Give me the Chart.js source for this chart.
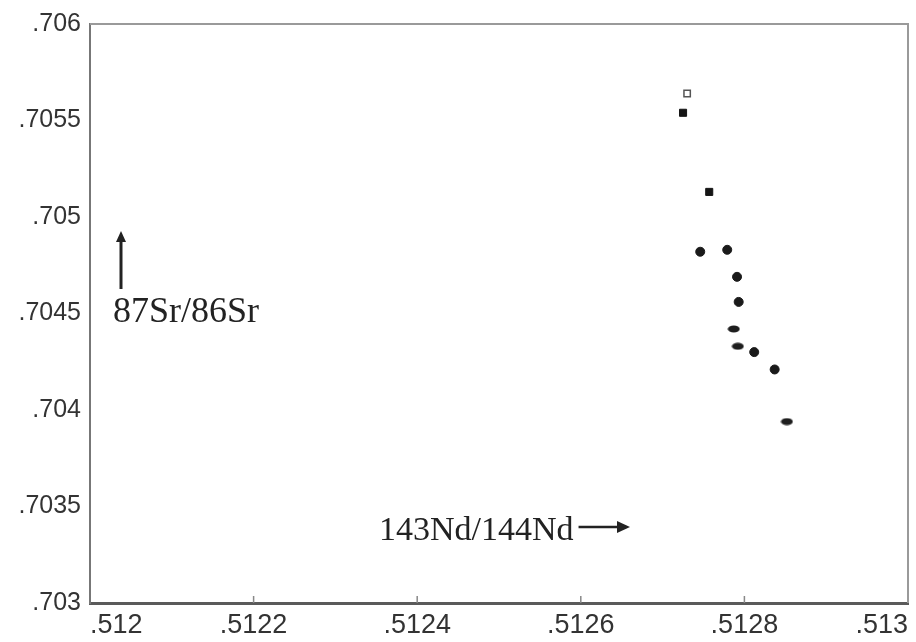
<!DOCTYPE html>
<html>
<head>
<meta charset="utf-8">
<script src="https://cdn.jsdelivr.net/npm/chart.js@4/dist/chart.umd.min.js"></script>
<style>
  html, body { margin: 0; padding: 0; background: #fff; }
  #wrap { width: 916px; height: 642px; position: relative; }
</style>
</head>
<body>
<div id="wrap"><canvas id="c" width="916" height="642"></canvas></div>
<script>
// ---- data ----
const xTickValues = [0.512, 0.5122, 0.5124, 0.5126, 0.5128, 0.513];
const xTickLabels = ['.512', '.5122', '.5124', '.5126', '.5128', '.513'];
const yTickValues = [0.703, 0.7035, 0.704, 0.7045, 0.705, 0.7055, 0.706];
const yTickLabels = ['.703', '.7035', '.704', '.7045', '.705', '.7055', '.706'];

const openSquareX = [0.51273];
const openSquareY = [0.70564];
const filledSquareX = [0.512725, 0.512757];
const filledSquareY = [0.70554, 0.70513];
const dotX = [0.512746, 0.512779, 0.512791, 0.512793, 0.512812, 0.512837];
const dotY = [0.70482, 0.70483, 0.70469, 0.70456, 0.70430, 0.70421];
const dashX = [0.512787, 0.512792, 0.512852];
const dashY = [0.70442, 0.70433, 0.70394];

const xLabel = '143Nd/144Nd';
const yLabel = '87Sr/86Sr';

function pts(xs, ys) { return xs.map((x, i) => ({ x: x, y: ys[i] })); }

// flattened marker used for the dash-like points
const dashImg = document.createElement('canvas');
dashImg.width = 13; dashImg.height = 8;
(function () {
  const g = dashImg.getContext('2d');
  g.fillStyle = '#1e1e1e';
  g.beginPath();
  g.ellipse(6.5, 4, 6, 3.5, 0, 0, Math.PI * 2);
  g.fill();
})();

const annotate = {
  id: 'annotate',
  afterDraw(chart) {
    const ctx = chart.ctx;
    const a = chart.chartArea;
    const xs = chart.scales.x;
    ctx.save();
    // top and right frame lines
    ctx.strokeStyle = '#9a9a9a';
    ctx.lineWidth = 2;
    ctx.beginPath();
    ctx.moveTo(a.left, a.top);
    ctx.lineTo(a.right, a.top);
    ctx.lineTo(a.right, a.bottom);
    ctx.stroke();
    // small inner ticks on the x axis
    ctx.strokeStyle = '#888';
    ctx.lineWidth = 1.5;
    xTickValues.slice(1, -1).forEach(v => {
      const px = xs.getPixelForValue(v);
      ctx.beginPath();
      ctx.moveTo(px, a.bottom);
      ctx.lineTo(px, a.bottom - 7);
      ctx.stroke();
    });
    // axis name texts
    ctx.fillStyle = '#222';
    ctx.textBaseline = 'alphabetic';
    ctx.textAlign = 'left';
    ctx.font = '36px "Liberation Serif", serif';
    ctx.fillText(yLabel, a.left + 23, 322);
    ctx.font = '34px "Liberation Serif", serif';
    ctx.fillText(xLabel, 379, 540);
    const xEnd = 379 + ctx.measureText(xLabel).width;
    // vertical arrow
    ctx.strokeStyle = '#222';
    ctx.lineWidth = 3;
    ctx.beginPath();
    ctx.moveTo(a.left + 31, 289);
    ctx.lineTo(a.left + 31, 238);
    ctx.stroke();
    ctx.beginPath();
    ctx.moveTo(a.left + 31, 231);
    ctx.lineTo(a.left + 26, 242);
    ctx.lineTo(a.left + 36, 242);
    ctx.closePath();
    ctx.fill();
    // horizontal arrow
    ctx.lineWidth = 2.5;
    ctx.beginPath();
    ctx.moveTo(xEnd + 5, 527);
    ctx.lineTo(622, 527);
    ctx.stroke();
    ctx.beginPath();
    ctx.moveTo(630, 527);
    ctx.lineTo(617, 521);
    ctx.lineTo(617, 533);
    ctx.closePath();
    ctx.fill();
    ctx.restore();
  }
};

new Chart(document.getElementById('c'), {
  type: 'scatter',
  data: {
    datasets: [
      { label: 'open square', data: pts(openSquareX, openSquareY), pointStyle: 'rect',
        pointRadius: 4.5, backgroundColor: '#fff', borderColor: '#555', borderWidth: 1.5 },
      { label: 'filled square', data: pts(filledSquareX, filledSquareY), pointStyle: 'rect',
        pointRadius: 5, backgroundColor: '#151515', borderColor: '#151515', borderWidth: 1 },
      { label: 'dot', data: pts(dotX, dotY), pointStyle: 'circle',
        pointRadius: 4.5, backgroundColor: '#1a1a1a', borderColor: '#1a1a1a', borderWidth: 1 },
      { label: 'dash', data: pts(dashX, dashY), pointStyle: dashImg,
        pointRadius: 6, backgroundColor: '#1e1e1e', borderColor: '#1e1e1e' }
    ]
  },
  options: {
    responsive: false,
    animation: false,
    events: [],
    layout: { padding: { top: 22, right: 8, left: 0, bottom: 0 } },
    plugins: { legend: { display: false }, tooltip: { enabled: false } },
    scales: {
      x: {
        type: 'linear', min: 0.512, max: 0.513,
        afterBuildTicks: s => { s.ticks = xTickValues.map(v => ({ value: v })); },
        afterFit: s => { s.height = 39; },
        grid: { display: false, drawTicks: false },
        border: { display: true, color: '#5a5a5a', width: 3 },
        ticks: {
          align: 'inner', padding: 6, color: '#333', maxRotation: 0,
          font: { family: '"Liberation Sans Narrow", "Liberation Sans", sans-serif', size: 27 },
          callback: (v) => { const i = xTickValues.findIndex(t => Math.abs(t - v) < 1e-9); return i >= 0 ? xTickLabels[i] : ''; }
        }
      },
      y: {
        type: 'linear', min: 0.703, max: 0.706,
        afterBuildTicks: s => { s.ticks = yTickValues.map(v => ({ value: v })); },
        afterFit: s => { s.width = 90; },
        grid: { display: false, drawTicks: false },
        border: { display: true, color: '#777', width: 2 },
        ticks: {
          padding: 9, color: '#333',
          font: { family: '"Liberation Sans", Arial, sans-serif', size: 25 },
          callback: (v) => { const i = yTickValues.findIndex(t => Math.abs(t - v) < 1e-9); return i >= 0 ? yTickLabels[i] : ''; }
        }
      }
    }
  },
  plugins: [annotate]
});
</script>
</body>
</html>
